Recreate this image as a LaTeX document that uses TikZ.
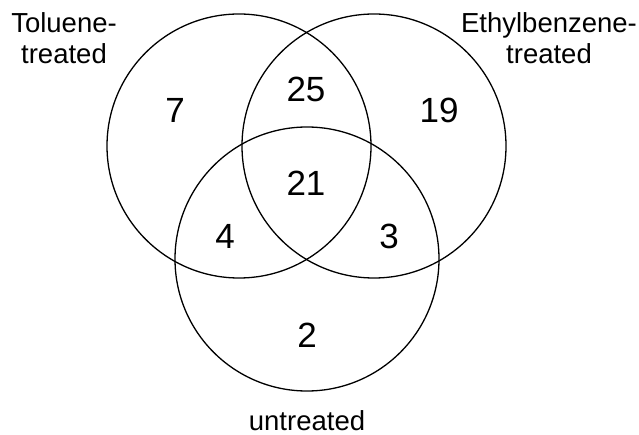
\documentclass[tikz,border=0pt]{standalone}
\usepackage{fontspec}
\setmainfont{Liberation Sans}
\begin{document}
\begin{tikzpicture}[x=1pt,y=-1pt,
  setcircle/.style={draw=black,line width=1.3pt},
  num/.style={inner sep=0pt,font=\fontsize{35}{40}\selectfont},
  lbl/.style={inner sep=0pt,align=center,font=\fontsize{27.5}{31}\selectfont}]
\useasboundingbox (0,0) rectangle (639,435);
\fill[white] (0,0) rectangle (639,435);
\draw[setcircle] (239,146) circle[radius=132] coordinate (cT);
\draw[setcircle] (374,146) circle[radius=132] coordinate (cE);
\draw[setcircle] (307,259) circle[radius=132] coordinate (cU);
\node[num] (n7) at (175,110) {7};
\node[num] (n25) at (306,89) {25};
\node[num] (n19) at (439,110) {19};
\node[num] (n21) at (306,183) {21};
\node[num] (n4) at (225,236) {4};
\node[num] (n3) at (389,236) {3};
\node[num] (n2) at (307,335) {2};
\node[lbl,anchor=north] (lT) at (64,12) {Toluene-\\treated};
\node[lbl,anchor=north] (lE) at (549,12) {Ethylbenzene-\\treated};
\node[lbl,anchor=base] (lU) at (307,430) {untreated};
\end{tikzpicture}
\end{document}
